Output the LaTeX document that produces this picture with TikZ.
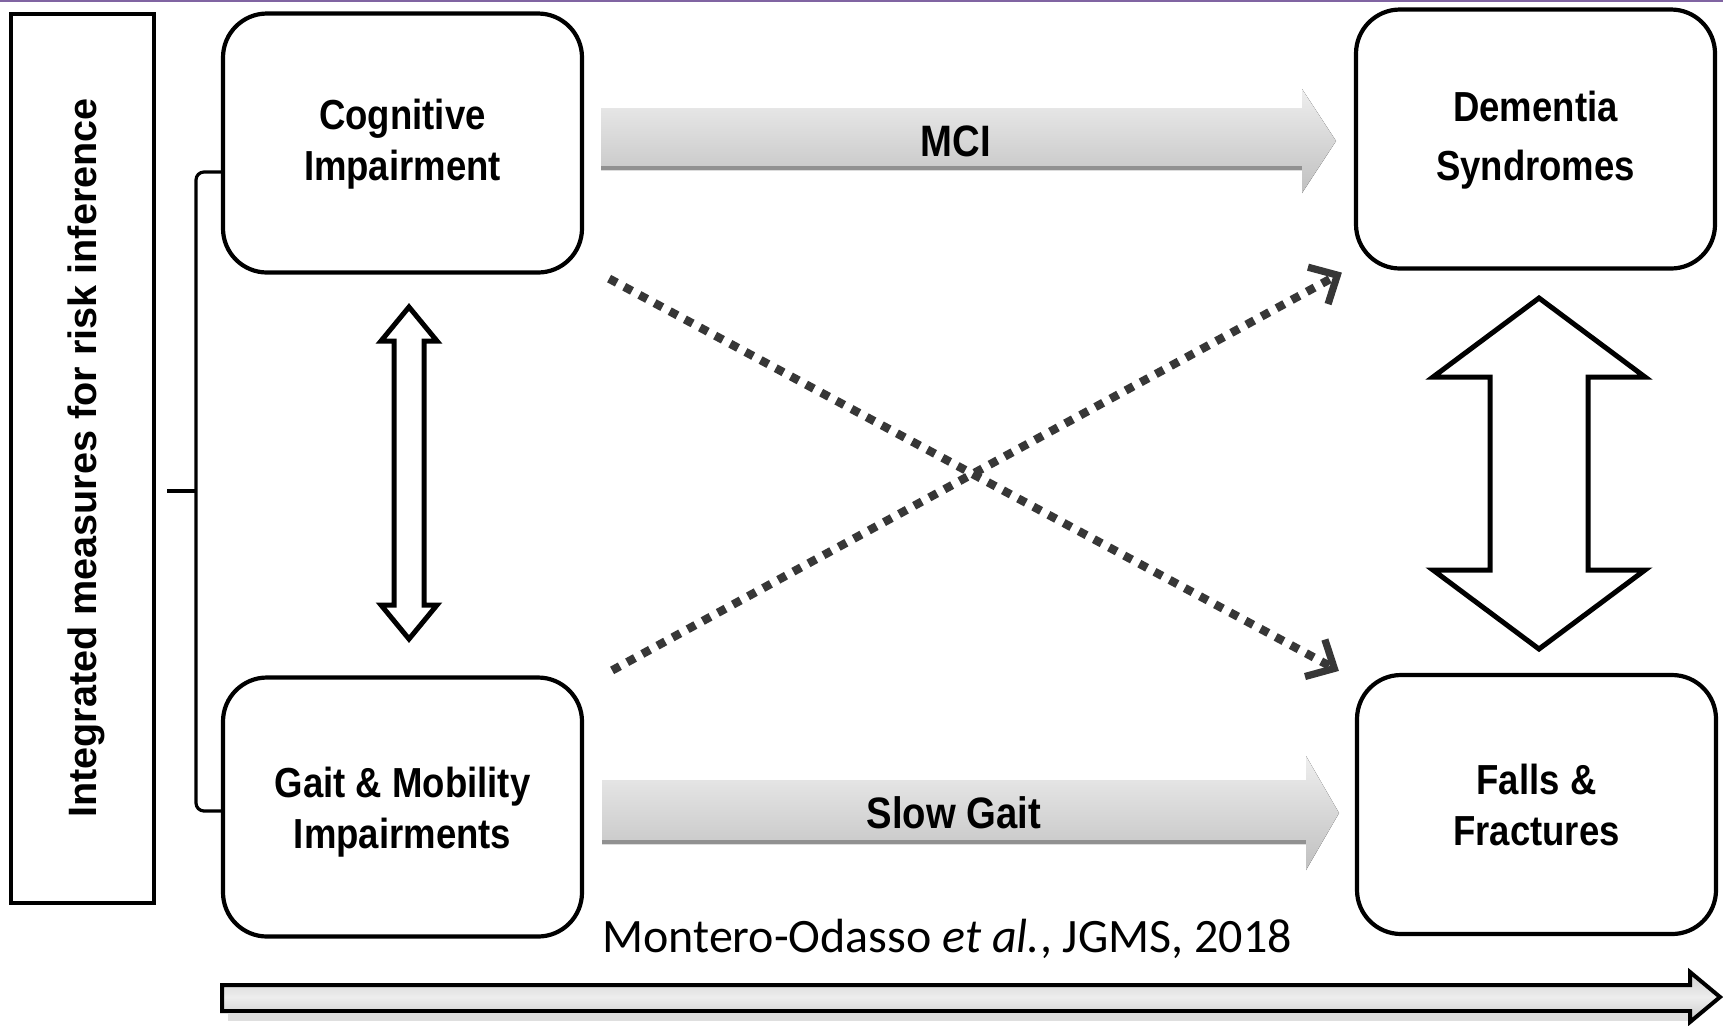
\documentclass[tikz,border=0pt]{standalone}
\usepackage{fontspec}
\setmainfont{Liberation Sans}
\newfontfamily\narrowsans{Liberation Sans}[FakeStretch=0.87]
\newfontfamily\citefont{Carlito}
\usetikzlibrary{arrows.meta}
\definecolor{framepurple}{RGB}{128,100,162}
\definecolor{dotgray}{RGB}{55,55,55}
\definecolor{arrowlight}{RGB}{238,238,238}
\definecolor{arrowdark}{RGB}{192,192,192}
\definecolor{arrowedge}{RGB}{145,145,145}
\tikzset{
  box/.style={draw, line width=2.1pt, rounded corners=22pt, minimum width=179.5pt,
    minimum height=129.5pt, inner sep=0pt},
  boxlabel/.style={align=center, inner sep=0pt,
    font=\narrowsans\bfseries\fontsize{21pt}{25.5pt}\selectfont},
  sidebox/.style={draw, line width=2pt, minimum width=71.5pt, minimum height=444.5pt, inner sep=0pt},
  sidetext/.style={rotate=90, font=\bfseries\fontsize{19.8pt}{24pt}\selectfont, inner sep=0pt},
  bracketline/.style={draw, line width=1.6pt, rounded corners=4pt},
  flowlabel/.style={font=\narrowsans\bfseries\fontsize{22pt}{26pt}\selectfont, inner sep=0pt},
  flowarrow/.style={top color=arrowlight, bottom color=arrowdark, draw=none},
  dotlink/.style={draw=dotgray, line width=4.2pt, dash pattern=on 4.4pt off 4.2pt,
    -{Straight Barb[length=11pt,width=21pt,line width=3.6pt]}},
  dblarrow/.style={draw, fill=white, line width=2.5pt, miter limit=10},
  timeline/.style={draw, line width=2pt, top color=gray!38, bottom color=gray!42, middle color=gray!14}
}
\begin{document}
\begin{tikzpicture}[x=0.5pt,y=-0.5pt]
\useasboundingbox[fill=white] (0,0) rectangle (1723,1025);
% thin frame line along the top
\draw[framepurple, line width=1pt] (0,1) -- (1723,1);

% side panel with the rotated caption
\node[sidebox] (side) at (82.5,458.5) {};
\node[sidetext] (sidecap) at (86,458) {Integrated measures for risk inference};

% the four domains
\node[box] (cog)  at (402.5,143)    {};
\node[box] (dem)  at (1535.5,139)   {};
\node[box] (fall) at (1536.5,804.5) {};
\node[box] (gait) at (402.5,807)    {};
\node[boxlabel] (coglbl)  at ([yshift=-0.5pt]cog.center)   {Cognitive\\Impairment};
\node[boxlabel] (demlbl)  at ([yshift=-0.75pt]dem.center)  {Dementia\\[4pt]Syndromes};
\node[boxlabel] (falllbl) at (fall.center)                 {Falls \&\\Fractures};
\node[boxlabel] (gaitlbl) at ([yshift=-2.5pt]gait.center)  {Gait \& Mobility\\Impairments};

% bracket joining the two left boxes
\coordinate (brkmid) at (196,491);
\coordinate (brktip) at (167,491);
\draw[bracketline] ([yshift=-14.5pt]cog.west) -| (brkmid) |- ([yshift=-2pt]gait.west);
\draw[line width=1.6pt] (brktip) -- (brkmid);

% shaded progression arrows
\fill[flowarrow] (601,108) -- (1302,108) -- (1302,89) -- (1336,141) -- (1302,193) -- (1302,170) -- (601,170) -- cycle;
\draw[arrowedge, line width=2.2pt] (601,168) -- (1302,168);
\node[flowlabel] (mci) at (956,141) {MCI};

\fill[flowarrow] (602,780) -- (1306,780) -- (1306,756) -- (1339,813) -- (1306,870) -- (1306,844) -- (602,844) -- cycle;
\draw[arrowedge, line width=2.2pt] (602,842) -- (1306,842);
\node[flowlabel] (slow) at (954,813) {Slow Gait};

% crossing dotted links
\draw[dotlink] ([shift={(25,4)}]cog.south east) -- ([shift={(-16,-2)}]fall.north west);
\draw[dotlink] ([shift={(28,-5)}]gait.north east) -- ([shift={(-12,2)}]dem.south west);

% two-headed block arrows
\draw[dblarrow] (409,307) -- (437,341) -- (424,341) -- (424,605) -- (437,605) -- (409,639)
  -- (381,605) -- (394,605) -- (394,341) -- (381,341) -- cycle;
\draw[dblarrow] (1539,298) -- (1645,377) -- (1588,377) -- (1588,570) -- (1645,570) -- (1539,649)
  -- (1433,570) -- (1490,570) -- (1490,377) -- (1433,377) -- cycle;

% citation
\node[anchor=base west, inner sep=0pt, font=\citefont\fontsize{24pt}{28pt}\selectfont] (cite) at (602,952)
  {Montero-Odasso \textit{et al.}, JGMS, 2018};

% time line along the bottom
\fill[gray!25] (228,1014) rectangle (1688,1021);
\path[timeline] (222,985) -- (1690,985) -- (1690,972) -- (1720,997) -- (1690,1022) -- (1690,1011) -- (222,1011) -- cycle;
\end{tikzpicture}
\end{document}
